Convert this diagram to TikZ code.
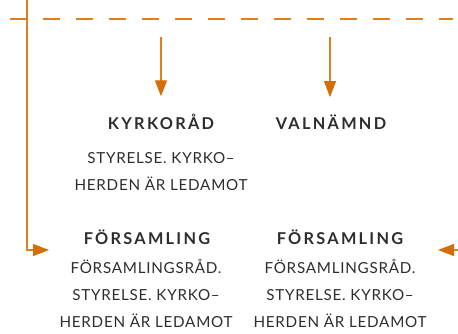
\documentclass[tikz,border=0pt]{standalone}
\usepackage{fontspec}
\setmainfont{Lato}
\newfontfamily\headfont[LetterSpace=14]{Lato}
\newfontfamily\bodyfont[LetterSpace=5]{Lato}
\usetikzlibrary{arrows.meta}
\usetikzlibrary{positioning}

\definecolor{orgline}{RGB}{222,128,30}
\definecolor{orgtip}{RGB}{214,110,8}
\definecolor{txtgray}{RGB}{45,45,45}

\tikzset{
    arr/.style={draw=orgline, line width=1.3pt,
        -{Triangle[length=16pt,width=12pt,color=orgtip]}},
    dashline/.style={draw=orgline, line width=1.3pt, dash pattern=on 17pt off 16pt},
    title/.style={anchor=base, inner sep=0pt, text=txtgray,
        font=\headfont\bfseries\fontsize{16.3}{18}\selectfont},
    body/.style={anchor=base, inner sep=0pt, text=txtgray, align=center,
        font=\bodyfont\fontsize{15.2}{27}\selectfont}
}

\begin{document}
\begin{tikzpicture}[x=1pt, y=-1pt]
            \useasboundingbox (0,0) rectangle (458,333);
            % upper row
            \node[title] (kyrk) at (161,129) {KYRKORÅD};
            \node[title] (val) at (331,129) {VALNÄMND};
            \node[body] (kyrkbody) at (161,190) {STYRELSE. KYRKO–\\HERDEN ÄR LEDAMOT};
            % lower row (base = last line)
            \node[title] (fors1) at (147,244) {FÖRSAMLING};
            \node[title] (fors2) at (340,244) {FÖRSAMLING};
            \node[body] (fors1body) at (146,327) {FÖRSAMLINGSRÅD.\\STYRELSE. KYRKO–\\HERDEN ÄR LEDAMOT};
            \node[body] (fors2body) at (340,327) {FÖRSAMLINGSRÅD.\\STYRELSE. KYRKO–\\HERDEN ÄR LEDAMOT};
            % connectors
            \coordinate (dashL) at (10,19);
            \coordinate (dashR) at (453,19);
            \coordinate (topL) at (27,0);
            \coordinate (inL) at (49,250);
            \coordinate (outR) at (458,250);
            \coordinate (inR) at (438,250);
            \coordinate (from1) at (161,37);
            \coordinate (from2) at (330,37);
            \draw[dashline] (dashL) -- (dashR);
            \draw[arr] (topL) |- (inL);
            \draw[arr] (outR) -- (inR);
            \draw[arr, shorten >=17pt] (from1) -- (from1 |- kyrk.north);
            \draw[arr, shorten >=17pt] (from2) -- (from2 |- val.north);
        \end{tikzpicture}
\end{document}
